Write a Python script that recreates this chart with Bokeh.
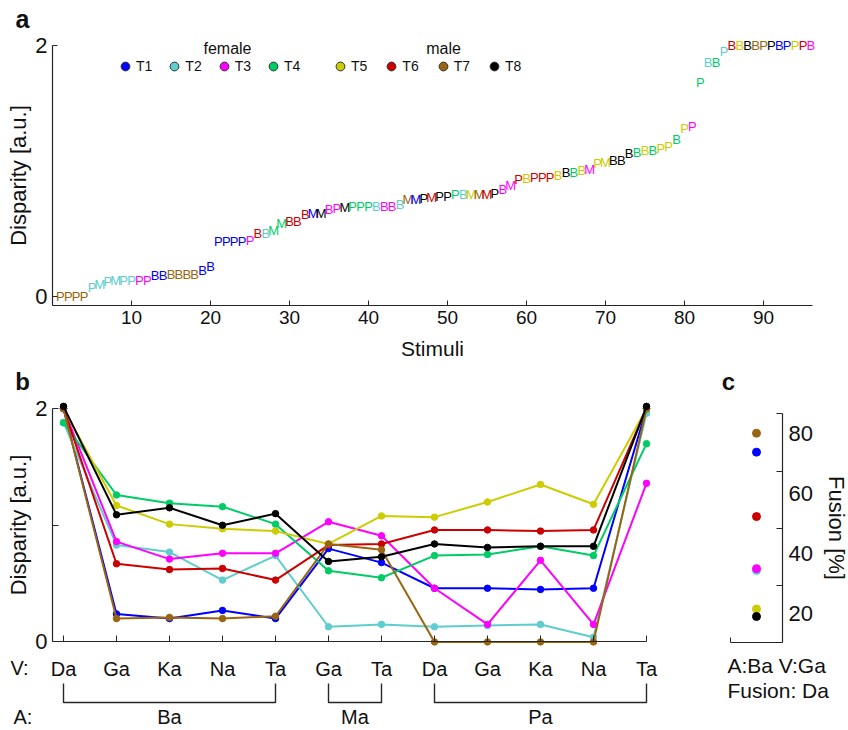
import math
from bokeh.plotting import figure
from bokeh.layouts import column, row
from bokeh.models import (ColumnDataSource, FixedTicker, Range1d, Label, Legend,
                          LegendItem)
from bokeh.core.properties import value
from bokeh.embed import file_html
from bokeh.resources import INLINE

FONT = "Liberation Sans"
AX = "#262626"
TXT = "#111111"

# ---------------- shared talker info ----------------
talkers = ["T1", "T2", "T3", "T4", "T5", "T6", "T7", "T8"]
talker_colors = ["#0000FF", "#5FCDCD", "#FF00FF", "#00CC66",
                 "#CCCC00", "#CC0000", "#9A6510", "#000000"]
female = ["T1", "T2", "T3", "T4"]
male = ["T5", "T6", "T7", "T8"]

# ---------------- panel a data (stimuli sorted by disparity) ----------------
a_letters = list("PPPP" "PMPMPP" "PP" "BB" "BBBB" "BB" "PPPPP" "BB" "MM" "BBB" "MM"
                 "BP" "M" "PPP" "BBBB" "MM" "P" "M" "PPP" "B" "MMM" "P" "B" "M" "P"
                 "B" "PPP" "BBBB" "M" "P" "M" "BBBBBB" "PP" "B" "PPP" "BB" "P"
                 "BBBB" "PP" "B" "PPP" "B")
a_talker = [7, 7, 7, 7, 2, 2, 2, 2, 2, 2, 3, 3, 1, 1, 7, 7, 7, 7, 1, 1,
            1, 1, 1, 1, 3, 6, 2, 4, 4, 6, 6, 6, 1, 8, 3, 3, 8, 4, 4, 4,
            2, 3, 3, 2, 7, 1, 8, 6, 8, 8, 4, 2, 5, 7, 6, 8, 3, 3, 6, 5,
            6, 6, 6, 5, 8, 4, 5, 3, 5, 5, 8, 8, 8, 4, 5, 4, 5, 5, 4, 5,
            3, 4, 2, 4, 2, 6, 5, 8, 7, 7, 8, 1, 1, 5, 6, 3]
a_disparity = [0.0, 0.0, 0.0, 0.0, 0.07, 0.10, 0.12, 0.13, 0.13, 0.13,
               0.13, 0.13, 0.17, 0.17, 0.18, 0.18, 0.18, 0.18, 0.21, 0.24,
               0.44, 0.44, 0.44, 0.44, 0.45, 0.50, 0.50, 0.53, 0.58, 0.60,
               0.60, 0.65, 0.66, 0.66, 0.69, 0.70, 0.71, 0.72, 0.72, 0.72,
               0.72, 0.72, 0.72, 0.73, 0.77, 0.77, 0.78, 0.79, 0.80, 0.80,
               0.81, 0.81, 0.81, 0.81, 0.81, 0.82, 0.85, 0.88, 0.93, 0.94,
               0.95, 0.95, 0.95, 0.96, 0.99, 0.99, 1.00, 1.01, 1.06, 1.07,
               1.08, 1.08, 1.14, 1.15, 1.16, 1.16, 1.18, 1.19, 1.25, 1.34,
               1.35, 1.70, 1.86, 1.86, 1.95, 2.0, 2.0, 2.0, 2.0, 2.0,
               2.0, 2.0, 2.0, 2.0, 2.0, 2.0]
a_xticks = [10, 20, 30, 40, 50, 60, 70, 80, 90]
a_yticks = [0, 2]
a_xlim = (0, 96.2)
a_ylim = (-0.07, 2.0)

# ---------------- panel b data ----------------
b_visual = ["Da", "Ga", "Ka", "Na", "Ta", "Ga", "Ta", "Da", "Ga", "Ka", "Na", "Ta"]
b_audio = ["Ba"] * 5 + ["Ma"] * 2 + ["Pa"] * 5
b_T1 = [2.0, 0.24, 0.20, 0.27, 0.20, 0.80, 0.68, 0.46, 0.46, 0.45, 0.46, 2.0]
b_T2 = [1.88, 0.83, 0.77, 0.53, 0.74, 0.13, 0.15, 0.13, 0.14, 0.15, 0.04, 1.96]
b_T3 = [2.0, 0.86, 0.71, 0.76, 0.76, 1.03, 0.91, 0.46, 0.15, 0.70, 0.15, 1.36]
b_T4 = [1.88, 1.26, 1.19, 1.16, 1.01, 0.61, 0.55, 0.74, 0.75, 0.82, 0.74, 1.70]
b_T5 = [2.0, 1.17, 1.01, 0.97, 0.95, 0.84, 1.08, 1.07, 1.20, 1.35, 1.18, 2.0]
b_T6 = [2.0, 0.67, 0.62, 0.63, 0.53, 0.83, 0.84, 0.96, 0.96, 0.95, 0.96, 2.0]
b_T7 = [2.0, 0.20, 0.21, 0.20, 0.22, 0.84, 0.79, 0.0, 0.0, 0.0, 0.0, 2.0]
b_T8 = [2.02, 1.09, 1.15, 1.00, 1.10, 0.69, 0.73, 0.84, 0.81, 0.82, 0.82, 2.02]
b_series = [b_T1, b_T2, b_T3, b_T4, b_T5, b_T6, b_T7, b_T8]
b_yticks = [0, 1, 2]
b_xlim = (0.79, 12)
b_ylim = (0, 2)

# ---------------- panel c data ----------------
c_fusion = [73.7, 34.4, 35.0, float("nan"), 21.6, 52.3, 80.0, 19.1]
c_ticks = [20, 40, 60, 80]
c_tickmarks = [29.5, 48.3, 67.3, 86.4]
c_ylim = (10.5, 86.4)
c_xlim = (0, 1)


def style_axis(ax, size="20px", label_size="22px"):
    ax.axis_line_color = AX
    ax.axis_line_width = 1.2
    ax.major_tick_line_color = AX
    ax.minor_tick_line_color = AX
    ax.major_label_text_font = FONT
    ax.major_label_text_font_size = size
    ax.major_label_text_color = TXT
    ax.axis_label_text_font = FONT
    ax.axis_label_text_font_size = label_size
    ax.axis_label_text_font_style = "normal"
    ax.axis_label_text_color = TXT
    ax.major_tick_out = 0
    ax.minor_tick_out = 0
    ax.minor_tick_in = 0


def base_fig(**kw):
    p = figure(output_backend="svg", toolbar_location=None,
               min_border=0, min_border_left=0, min_border_right=0,
               min_border_top=0, min_border_bottom=0, **kw)
    p.grid.visible = False
    p.outline_line_color = None
    p.background_fill_color = "white"
    p.border_fill_color = "white"
    return p


def label(fig, x, y, text, size, align="center", bold=False):
    fig.add_layout(Label(x=x, y=y, text=text, text_font=FONT, text_font_size=size,
                         text_font_style="bold" if bold else "normal",
                         text_align=align, text_baseline="middle", text_color=TXT))


# ================= panel a =================
fa = base_fig(width=848, height=364, x_range=Range1d(-6.582, 100.759),
              y_range=Range1d(-0.539, 2.3545))
xa = fa.xaxis[0]
ya = fa.yaxis[0]
style_axis(xa, "19px", "21px")
style_axis(ya, "22px", "22px")
xa.fixed_location = a_ylim[0]
xa.bounds = a_xlim
xa.ticker = FixedTicker(ticks=a_xticks, minor_ticks=[])
xa.major_tick_in = 5
xa.major_label_standoff = 5
xa.axis_label = "Stimuli"
xa.axis_label_standoff = 10
ya.fixed_location = a_xlim[0]
ya.bounds = a_ylim
ya.ticker = FixedTicker(ticks=a_yticks, minor_ticks=[])
ya.major_tick_in = 5
ya.major_label_standoff = 5
ya.axis_label = "Disparity [a.u.]"
ya.axis_label_standoff = 1

src_a = ColumnDataSource(dict(
    x=list(range(1, len(a_letters) + 1)), y=a_disparity, t=a_letters,
    c=[talker_colors[k - 1] for k in a_talker]))
fa.text(x="x", y="y", text="t", text_color="c", source=src_a,
        text_font=value(FONT), text_font_size="13px",
        text_align="center", text_baseline="middle")

leg_r = []
for name, col in zip(talkers, talker_colors):
    r = fa.scatter(x=[float("nan")], y=[float("nan")], marker="circle", size=9,
                   fill_color=col, line_color="#333333", line_width=1)
    leg_r.append(r)


def make_legend(names, loc, spacing):
    items = [LegendItem(label=n, renderers=[leg_r[talkers.index(n)]]) for n in names]
    lg = Legend(items=items, orientation="horizontal", location=loc,
                glyph_width=22, glyph_height=26, label_standoff=0, spacing=spacing,
                padding=0, margin=0, label_width=16, label_height=14,
                border_line_color=None, background_fill_alpha=0,
                label_text_font=FONT, label_text_font_size="14px",
                label_text_color=TXT)
    fa.add_layout(lg)


make_legend(female, (114, 285), 11)
make_legend(male, (329, 285), 13)

label(fa, 22.15, 1.973, "female", "16px")
label(fa, 49.5, 1.973, "male", "16px")
label(fa, -3.8, 2.211, "a", "25px", bold=True)

# ================= panel b =================
fb = base_fig(width=700, height=366, x_range=Range1d(-0.1887, 13.0189),
              y_range=Range1d(-0.7599, 2.379))
xb = fb.xaxis[0]
yb = fb.yaxis[0]
style_axis(xb, "20px")
style_axis(yb, "22px", "22px")
conds = list(range(1, len(b_visual) + 1))
xb.fixed_location = b_ylim[0]
xb.bounds = b_xlim
xb.ticker = FixedTicker(ticks=conds, minor_ticks=[])
xb.major_label_overrides = {c: v for c, v in zip(conds, b_visual)}
xb.major_tick_in = 6
xb.major_label_standoff = 16
yb.fixed_location = b_xlim[0]
yb.bounds = b_ylim
yb.ticker = FixedTicker(ticks=b_yticks, minor_ticks=[])
yb.major_label_overrides = {1: ""}
yb.major_tick_in = 6
yb.major_label_standoff = 5
yb.axis_label = "Disparity [a.u.]"
yb.axis_label_standoff = 1

for ser, col in zip(b_series, talker_colors):
    fb.line(conds, ser, line_color=col, line_width=2)
    fb.scatter(conds, ser, marker="circle", size=6.5, fill_color=col, line_color=col)

# brackets for the auditory groups
groups = []
for i, a in enumerate(b_audio):
    if groups and groups[-1][0] == a:
        groups[-1][2] = conds[i]
    else:
        groups.append([a, conds[i], conds[i]])
br_top, br_bot, lab_y = -0.357, -0.52, -0.645
xs, ys = [], []
for g, s, e in groups:
    xs.append([s, s, e, e])
    ys.append([br_top, br_bot, br_bot, br_top])
fb.multi_line(xs, ys, line_color=AX, line_width=1.4)
fb.text(x=[(s + e) / 2 for _, s, e in groups], y=[lab_y] * len(groups),
        text=[g for g, _, _ in groups], text_font=value(FONT), text_font_size="20px",
        text_align="center", text_baseline="middle", text_color=TXT)

label(fb, 0.0, -0.228, "V:", "20px", align="left")
label(fb, 0.057, lab_y, "A:", "20px", align="left")
label(fb, 0.2264, 2.235, "b", "24px", bold=True)

# ================= panel c =================
fc = base_fig(width=148, height=366, x_range=Range1d(-0.5769, 2.2692),
              y_range=Range1d(-18.77, 102.82), y_axis_location="right")
xc = fc.xaxis[0]
yc = fc.yaxis[0]
style_axis(xc, "1px")
style_axis(yc, "22px", "22px")
xc.fixed_location = c_ylim[0]
xc.bounds = c_xlim
xc.ticker = FixedTicker(ticks=[c_xlim[0]], minor_ticks=[])
xc.major_label_overrides = {c_xlim[0]: ""}
xc.major_tick_in = 5
yc.fixed_location = c_xlim[1]
yc.bounds = c_ylim
yc.ticker = FixedTicker(ticks=c_ticks, minor_ticks=c_tickmarks)
yc.major_tick_in = 0
yc.minor_tick_in = 6
yc.major_label_standoff = 6
yc.axis_label = "Fusion [%]"
yc.axis_label_standoff = 8

src_c = ColumnDataSource(dict(x=[(c_xlim[0] + c_xlim[1]) / 2] * len(talkers),
                              y=c_fusion, c=talker_colors))
fc.scatter(x="x", y="y", color="c", source=src_c, marker="circle", size=8)

label(fc, -0.06, 2.8, "A:Ba V:Ga", "21px", align="left")
label(fc, -0.06, -5.5, "Fusion: Da", "21px", align="left")
label(fc, -0.04, 97.3, "c", "24px", bold=True)

layout = column(fa, row(fb, fc))
open("out.html", "w").write(file_html(layout, INLINE))
